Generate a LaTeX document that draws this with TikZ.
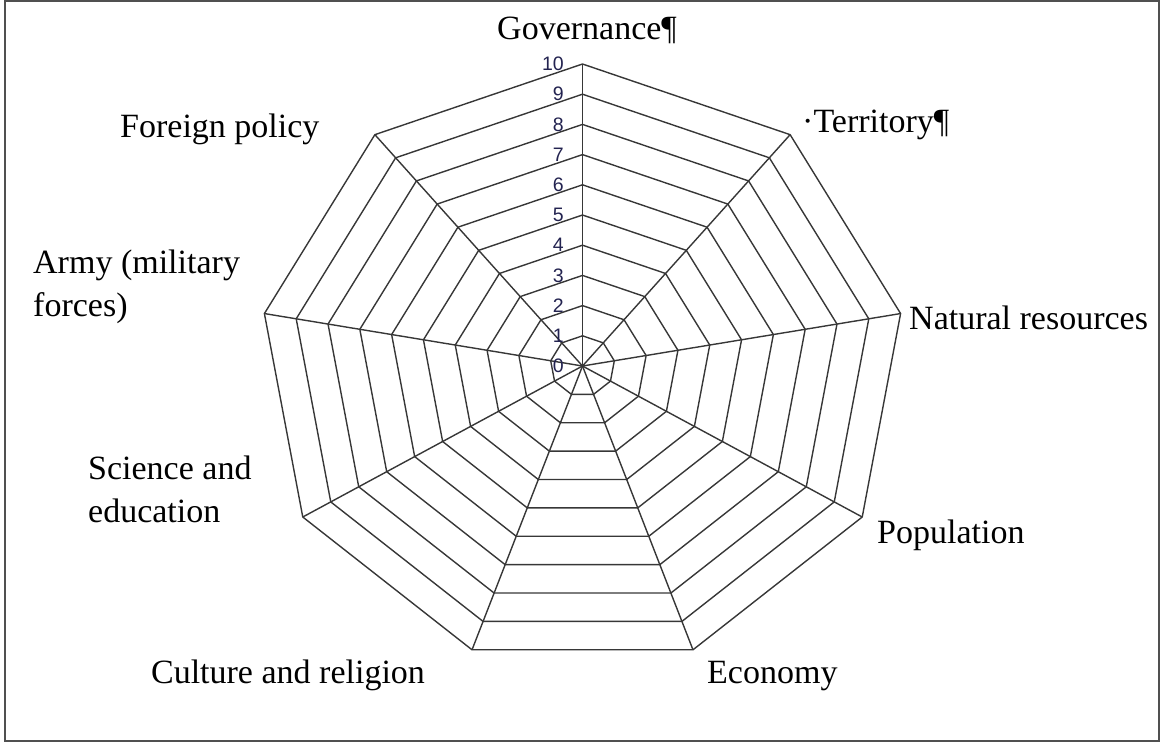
\documentclass[tikz,border=0pt]{standalone}
\usepackage{fontspec}
\setmainfont{Liberation Serif}
\newfontfamily\tickfont{Liberation Sans}
\usetikzlibrary{calc}
\definecolor{gridgray}{RGB}{55,55,55}
\definecolor{framegray}{RGB}{80,80,80}
\definecolor{tickblue}{RGB}{35,35,80}
\tikzset{
	ring/.style={draw=gridgray, line width=1.4pt, line join=miter},
	spoke/.style={draw=gridgray, line width=1.4pt},
	axislabel/.style={font=\fontsize{34}{43}\selectfont, inner sep=0pt, align=left},
	ticklabel/.style={font=\tickfont\fontsize{19.5}{19.5}\selectfont, text=tickblue, inner sep=0pt, anchor=east},
}

\begin{document}
\begin{tikzpicture}[x=1pt,y=-1pt]
	\useasboundingbox (0,0) rectangle (1160,742);
	\draw[line width=2pt, draw=framegray] (5,1) rectangle (1159,741);

	% centre and outer corners of the nine axes
	\coordinate (o) at (582.5,366);
	\foreach \k in {0,...,8}
		\coordinate (v\k) at ($(o)+({323*cos(90-40*\k)},{-302*sin(90-40*\k)})$);

	% rings 1..10
	\foreach \r in {1,...,10}
		\draw[ring] ($(o)!{\r/10}!(v0)$) \foreach \k in {1,...,8} { -- ($(o)!{\r/10}!(v\k)$) } -- cycle;

	% spokes
	\foreach \k in {0,...,8}
		\draw[spoke] (o) -- (v\k);

	% scale on the top axis
	\foreach \r in {0,...,10}
		\node[ticklabel] (t\r) at (564,{366-30.2*\r}) {\r};

	% axis names
	\node[axislabel, anchor=base west] (gov) at (497,39) {Governance¶};
	\node[axislabel, anchor=base west] (terr) at (802,132) {·Territory¶};
	\node[axislabel, anchor=base west] (natres) at (909,329) {Natural resources};
	\node[axislabel, anchor=base west] (pop) at (877,543) {Population};
	\node[axislabel, anchor=base west] (econ) at (707,683) {Economy};
	\node[axislabel, anchor=base] (cult) at (288,683) {Culture and religion};
	\node[axislabel, anchor=base west] (sci) at (88,522) {Science and\\education};
	\node[axislabel, anchor=base west] (army) at (33,316) {Army (military\\forces)};
	\node[axislabel, anchor=base west] (fp) at (120,137) {Foreign policy};
\end{tikzpicture}
\end{document}
